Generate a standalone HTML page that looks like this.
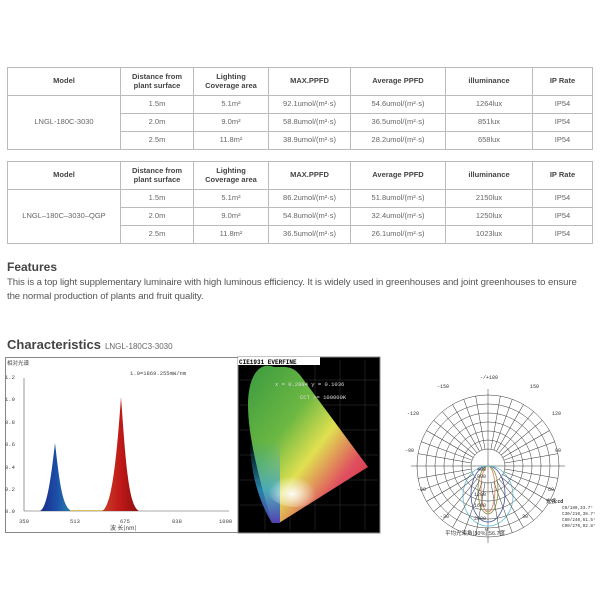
<!DOCTYPE html>
<html><head><meta charset="utf-8"><style>
body{margin:0;width:600px;height:600px;background:#fff;position:relative;overflow:hidden;font-family:"Liberation Sans","Noto Sans CJK SC",sans-serif;color:#555}
table{position:absolute;left:7px;width:585px;border-collapse:collapse;font-size:7.5px;color:#666;table-layout:fixed}
td,th{border:1px solid #bbb;text-align:center;padding:0;line-height:8.5px}
th{font-weight:bold;color:#444;height:27px;font-size:7.5px}
td{height:17px}
.feat{position:absolute;left:7px;top:260px;font-weight:bold;font-size:12px;color:#444}
.ft{position:absolute;left:7px;top:276px;font-size:9.6px;letter-spacing:-0.1px;color:#555;line-height:14px;width:600px;white-space:nowrap}
.ch{position:absolute;left:7px;top:337px;font-weight:bold;font-size:13px;color:#444}
.ch span{font-weight:normal;font-size:8px;color:#666;margin-left:4px}
</style></head><body>
<table style="top:67px">
<colgroup><col style="width:113px"><col style="width:73px"><col style="width:75px"><col style="width:82px"><col style="width:95px"><col style="width:87px"><col style="width:60px"></colgroup>
<tr><th>Model</th><th>Distance from<br>plant surface</th><th>Lighting<br>Coverage area</th><th>MAX.PPFD</th><th>Average PPFD</th><th>illuminance</th><th>IP Rate</th></tr>
<tr><td rowspan="3">LNGL-180C-3030</td><td>1.5m</td><td>5.1m²</td><td>92.1umol/(m²·s)</td><td>54.6umol/(m²·s)</td><td>1264lux</td><td>IP54</td></tr>
<tr><td>2.0m</td><td>9.0m²</td><td>58.8umol/(m²·s)</td><td>36.5umol/(m²·s)</td><td>851lux</td><td>IP54</td></tr>
<tr><td>2.5m</td><td>11.8m²</td><td>38.9umol/(m²·s)</td><td>28.2umol/(m²·s)</td><td>658lux</td><td>IP54</td></tr>
</table>
<table style="top:161px">
<colgroup><col style="width:113px"><col style="width:73px"><col style="width:75px"><col style="width:82px"><col style="width:95px"><col style="width:87px"><col style="width:60px"></colgroup>
<tr><th>Model</th><th>Distance from<br>plant surface</th><th>Lighting<br>Coverage area</th><th>MAX.PPFD</th><th>Average PPFD</th><th>illuminance</th><th>IP Rate</th></tr>
<tr><td rowspan="3">LNGL–180C–3030–QGP</td><td>1.5m</td><td>5.1m²</td><td>86.2umol/(m²·s)</td><td>51.8umol/(m²·s)</td><td>2150lux</td><td>IP54</td></tr>
<tr><td>2.0m</td><td>9.0m²</td><td>54.8umol/(m²·s)</td><td>32.4umol/(m²·s)</td><td>1250lux</td><td>IP54</td></tr>
<tr><td>2.5m</td><td>11.8m²</td><td>36.5umol/(m²·s)</td><td>26.1umol/(m²·s)</td><td>1023lux</td><td>IP54</td></tr>
</table>
<div class="feat">Features</div>
<div class="ft">This is a top light supplementary luminaire with high luminous efficiency. It is widely used in greenhouses and joint greenhouses to ensure<br>the normal production of plants and fruit quality.</div>
<div class="ch">Characteristics<span>LNGL-180C3-3030</span></div>

<svg style="position:absolute;left:0;top:0" width="600" height="600">
<defs>
<linearGradient id="bl" x1="0" x2="1"><stop offset="0" stop-color="#1a2a8a"/><stop offset=".5" stop-color="#1c4fa8"/><stop offset="1" stop-color="#2b8fb0"/></linearGradient>
<linearGradient id="rd" x1="0" x2="1"><stop offset="0" stop-color="#c8402a"/><stop offset=".5" stop-color="#c01818"/><stop offset="1" stop-color="#8a0f0f"/></linearGradient>
<linearGradient id="cg" x1="0" y1="0" x2="1" y2="1"><stop offset="0" stop-color="#3a9a40"/><stop offset=".35" stop-color="#6cb842"/><stop offset=".55" stop-color="#e0e050"/><stop offset=".75" stop-color="#e05060"/><stop offset="1" stop-color="#c82030"/></linearGradient>
<radialGradient id="cw" cx="0.45" cy="0.7" r="0.4"><stop offset="0" stop-color="#fff" stop-opacity=".95"/><stop offset="1" stop-color="#fff" stop-opacity="0"/></radialGradient>
<linearGradient id="cb" x1="0" y1="0" x2="0" y2="1"><stop offset="0" stop-color="#2aa0c0" stop-opacity="0"/><stop offset=".6" stop-color="#30a0d0" stop-opacity=".8"/><stop offset="1" stop-color="#5040b0"/></linearGradient>
</defs>
<rect x="5.5" y="357.5" width="233" height="175" fill="#fff" stroke="#888"/>
<g font-family="Liberation Mono,monospace" font-size="5.5" fill="#444">
<text x="7" y="365" font-family="Noto Sans CJK SC,sans-serif">相对光谱</text>
<text x="130" y="375">1.0=1869.255mW/nm</text>
<text x="5" y="379">1.2</text><text x="5" y="401">1.0</text><text x="5" y="424">0.8</text><text x="5" y="446">0.6</text><text x="5" y="469">0.4</text><text x="5" y="491">0.2</text><text x="5" y="513">0.0</text>
<text x="19" y="523">350</text><text x="70" y="523">513</text><text x="120" y="523">675</text><text x="172" y="523">838</text><text x="219" y="523">1000</text>
<text x="110" y="530" font-family="Noto Sans CJK SC,sans-serif" font-size="6">波 长(nm)</text>
</g>
<line x1="24" y1="378" x2="24" y2="511" stroke="#555" stroke-width=".6"/>
<line x1="24" y1="511" x2="229" y2="511" stroke="#555" stroke-width=".6"/>
<path d="M40,511 C47,508 51,478 55,443 C59,478 62,505 70,510 L74,511Z" fill="url(#bl)"/>
<path d="M70,510 L104,510 L104,511 L70,511Z" fill="#d8c060"/>
<path d="M102,511 C111,507 116,468 121,397 C126,468 129,506 139,511Z" fill="url(#rd)"/>
<rect x="238" y="357" width="142" height="176" fill="#000" stroke="#888"/>
<g stroke="#444" stroke-width=".4">
<line x1="240" y1="380" x2="378" y2="380"/><line x1="240" y1="405" x2="378" y2="405"/><line x1="240" y1="430" x2="378" y2="430"/><line x1="240" y1="455" x2="378" y2="455"/><line x1="240" y1="480" x2="378" y2="480"/><line x1="240" y1="505" x2="378" y2="505"/>
<line x1="265" y1="360" x2="265" y2="530"/><line x1="290" y1="360" x2="290" y2="530"/><line x1="315" y1="360" x2="315" y2="530"/><line x1="340" y1="360" x2="340" y2="530"/><line x1="365" y1="360" x2="365" y2="530"/>
</g>
<path d="M274,392 C260,386 248,400 248,430 C248,460 258,500 272,548 L279,548 L368,492 L300,400 C292,390 284,392 274,392Z" transform="translate(0,-25)" fill="url(#cg)"/>
<path d="M250,440 C250,470 258,500 272,523 L280,523 L280,440Z" fill="url(#cb)"/>
<ellipse cx="295" cy="485" rx="30" ry="22" fill="url(#cw)"/>
<rect x="238" y="357" width="82" height="8" fill="#fff"/>
<g font-family="Liberation Mono,monospace" font-size="6" font-weight="bold" fill="#000"><text x="239" y="364">CIE1931 EVERFINE</text></g>
<g font-family="Liberation Mono,monospace" font-size="5.5" fill="#ddd"><text x="275" y="386">x = 0.2884 y = 0.1036</text><text x="300" y="399">CCT &gt;= 100000K</text></g>
<g transform="translate(488,466)" fill="none" stroke="#333" stroke-width=".5">
<circle r="71"/><circle r="62"/><circle r="53"/><circle r="44"/><circle r="35"/><circle r="26"/><circle r="17"/>
</g>
<g transform="translate(488,466)" stroke="#333" stroke-width=".5">
<line x1="0" y1="-77" x2="0" y2="77"/><line x1="-77" y1="0" x2="77" y2="0"/>
</g>
<g transform="translate(488,466)" fill="none" stroke-width=".8">
<ellipse cx="0" cy="23" rx="7" ry="23" stroke="#d08050"/>
<ellipse cx="0" cy="24" rx="10" ry="24" stroke="#8a9040"/>
<ellipse cx="0" cy="28" rx="17" ry="28" stroke="#4050a0"/>
<ellipse cx="0" cy="30" rx="25" ry="30" stroke="#60c0d0"/>
</g>
<g font-family="Liberation Mono,monospace" font-size="5" fill="#333">
<text x="480" y="379">-/+180</text><text x="437" y="388">-150</text><text x="530" y="388">150</text>
<text x="407" y="415">-120</text><text x="552" y="415">120</text><text x="405" y="452">-90</text><text x="555" y="452">90</text>
<text x="417" y="491">-60</text><text x="548" y="491">60</text><text x="440" y="518">-30</text><text x="522" y="518">30</text>
<text x="485" y="531">0</text>
<text x="477" y="471" fill="#222">400</text><text x="477" y="478">800</text><text x="474" y="496">1200</text><text x="474" y="507">1600</text><text x="474" y="520">2000</text>
<text x="546" y="503" font-weight="bold" font-family="Noto Sans CJK SC,sans-serif">光强:cd</text>
<text x="562" y="509" font-size="4.3">C0/180,33.7°</text><text x="562" y="515" font-size="4.3">C30/210,38.7°</text><text x="562" y="521" font-size="4.3">C60/240,61.5°</text><text x="562" y="527" font-size="4.3">C90/270,92.8°</text>
<text x="445" y="535" font-size="5.5" font-family="Noto Sans CJK SC,sans-serif">平均光束角(50%):56.7度</text>
</g>
<g transform="translate(488,466)" stroke="#333" stroke-width=".5">
<line x1="0" y1="-17" x2="0" y2="-71" transform="rotate(10)"/><line x1="0" y1="-17" x2="0" y2="-71" transform="rotate(20)"/><line x1="0" y1="-17" x2="0" y2="-71" transform="rotate(30)"/><line x1="0" y1="-17" x2="0" y2="-71" transform="rotate(40)"/><line x1="0" y1="-17" x2="0" y2="-71" transform="rotate(50)"/><line x1="0" y1="-17" x2="0" y2="-71" transform="rotate(60)"/><line x1="0" y1="-17" x2="0" y2="-71" transform="rotate(70)"/><line x1="0" y1="-17" x2="0" y2="-71" transform="rotate(80)"/><line x1="0" y1="-17" x2="0" y2="-71" transform="rotate(100)"/><line x1="0" y1="-17" x2="0" y2="-71" transform="rotate(110)"/><line x1="0" y1="-17" x2="0" y2="-71" transform="rotate(120)"/><line x1="0" y1="-17" x2="0" y2="-71" transform="rotate(130)"/><line x1="0" y1="-17" x2="0" y2="-71" transform="rotate(140)"/><line x1="0" y1="-17" x2="0" y2="-71" transform="rotate(150)"/><line x1="0" y1="-17" x2="0" y2="-71" transform="rotate(160)"/><line x1="0" y1="-17" x2="0" y2="-71" transform="rotate(170)"/><line x1="0" y1="-17" x2="0" y2="-71" transform="rotate(190)"/><line x1="0" y1="-17" x2="0" y2="-71" transform="rotate(200)"/><line x1="0" y1="-17" x2="0" y2="-71" transform="rotate(210)"/><line x1="0" y1="-17" x2="0" y2="-71" transform="rotate(220)"/><line x1="0" y1="-17" x2="0" y2="-71" transform="rotate(230)"/><line x1="0" y1="-17" x2="0" y2="-71" transform="rotate(240)"/><line x1="0" y1="-17" x2="0" y2="-71" transform="rotate(250)"/><line x1="0" y1="-17" x2="0" y2="-71" transform="rotate(260)"/><line x1="0" y1="-17" x2="0" y2="-71" transform="rotate(280)"/><line x1="0" y1="-17" x2="0" y2="-71" transform="rotate(290)"/><line x1="0" y1="-17" x2="0" y2="-71" transform="rotate(300)"/><line x1="0" y1="-17" x2="0" y2="-71" transform="rotate(310)"/><line x1="0" y1="-17" x2="0" y2="-71" transform="rotate(320)"/><line x1="0" y1="-17" x2="0" y2="-71" transform="rotate(330)"/><line x1="0" y1="-17" x2="0" y2="-71" transform="rotate(340)"/><line x1="0" y1="-17" x2="0" y2="-71" transform="rotate(350)"/>
</g>
</svg>
</body></html>
